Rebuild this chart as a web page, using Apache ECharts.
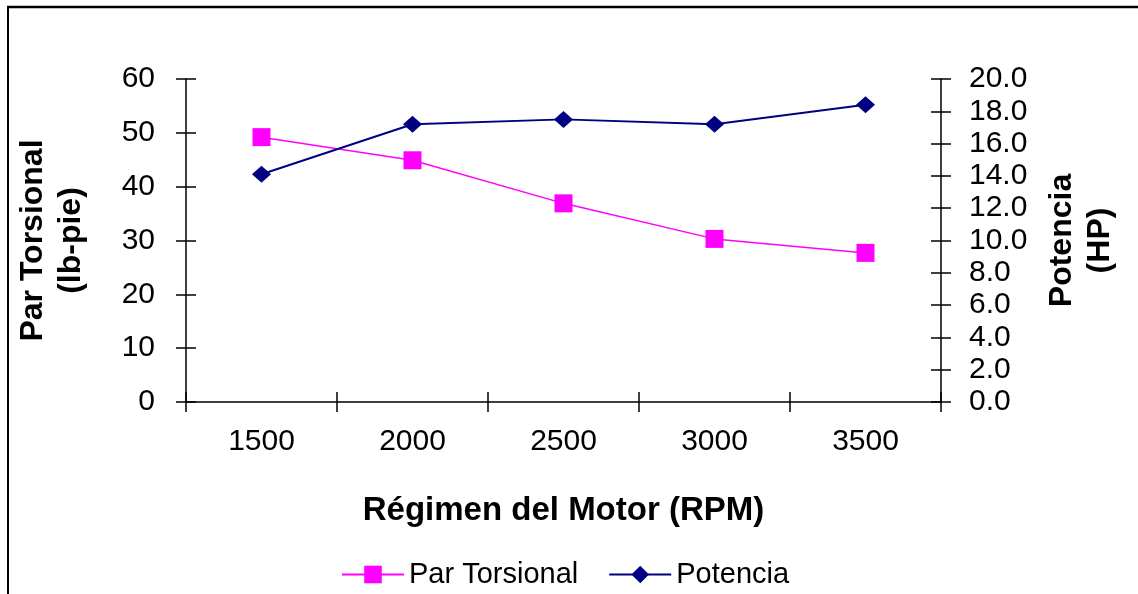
<!DOCTYPE html>
<html>
<head>
<meta charset="utf-8">
<script src="https://cdn.jsdelivr.net/npm/echarts@6/dist/echarts.min.js"></script>
<style>
  html, body { margin: 0; padding: 0; background: #fff; }
  #chart { width: 1138px; height: 594px; }
</style>
</head>
<body>
<div id="chart"></div>
<script>
// Engine speed (RPM) categories
const rpm = ['1500', '2000', '2500', '3000', '3500'];
// Torque in lb-ft
const parTorsional = [49.2, 44.9, 36.9, 30.3, 27.7];
// Power in HP
const potencia = [14.1, 17.2, 17.5, 17.2, 18.4];

const FONT = '"Liberation Sans", Arial, sans-serif';
const AXIS_COLOR = '#000';

const chart = echarts.init(document.getElementById('chart'), null, { renderer: 'canvas' });

// ticks cross the axis lines: outer half on the main axes, inner half on companion axes
const tickOut = { show: true, inside: false, length: 10, lineStyle: { color: AXIS_COLOR, width: 1.5 } };
const tickIn = { show: true, inside: true, length: 10, lineStyle: { color: AXIS_COLOR, width: 1.5 } };

chart.setOption({
  backgroundColor: '#fff',
  animation: false,
  grid: { left: 186, right: 197, top: 79, bottom: 192, containLabel: false },
  graphic: [
    { type: 'line', shape: { x1: 7, y1: 7, x2: 1138, y2: 7 }, style: { stroke: '#000', lineWidth: 2.5 } },
    { type: 'line', shape: { x1: 8, y1: 6, x2: 8, y2: 594 }, style: { stroke: '#000', lineWidth: 2 } }
  ],
  legend: {
    left: 336,
    top: 555,
    itemWidth: 62,
    itemHeight: 22,
    itemGap: 30,
    textStyle: { fontFamily: FONT, fontSize: 29, color: '#000' },
    data: ['Par Torsional', 'Potencia']
  },
  xAxis: [
    {
      type: 'category',
      data: rpm,
      boundaryGap: true,
      name: 'Régimen del Motor (RPM)',
      nameLocation: 'middle',
      nameGap: 92,
      nameTextStyle: { fontFamily: FONT, fontSize: 33, fontWeight: 'bold', color: '#000' },
      axisLine: { show: true, lineStyle: { color: AXIS_COLOR, width: 1.5 } },
      axisTick: tickOut,
      axisLabel: { margin: 25, fontFamily: FONT, fontSize: 30, color: '#000' },
      splitLine: { show: false }
    },
    {
      type: 'category',
      data: rpm,
      position: 'bottom',
      boundaryGap: true,
      axisLine: { show: false },
      axisTick: tickIn,
      axisLabel: { show: false },
      splitLine: { show: false }
    }
  ],
  yAxis: [
    {
      type: 'value',
      position: 'left',
      min: 0, max: 60, interval: 10,
      name: 'Par Torsional\n(lb-pie)',
      nameLocation: 'middle',
      nameRotate: 90,
      nameGap: 96,
      nameTextStyle: { fontFamily: FONT, fontSize: 32, fontWeight: 'bold', color: '#000', lineHeight: 38 },
      axisLine: { show: true, lineStyle: { color: AXIS_COLOR, width: 1.5 } },
      axisTick: tickOut,
      axisLabel: { margin: 31, fontFamily: FONT, fontSize: 30, color: '#000' },
      splitLine: { show: false }
    },
    {
      type: 'value',
      position: 'right',
      min: 0, max: 20, interval: 2,
      name: 'Potencia\n(HP)',
      nameLocation: 'middle',
      nameRotate: 90,
      nameGap: 102,
      nameTextStyle: { fontFamily: FONT, fontSize: 32, fontWeight: 'bold', color: '#000', lineHeight: 38 },
      axisLine: { show: true, lineStyle: { color: AXIS_COLOR, width: 1.5 } },
      axisTick: tickOut,
      axisLabel: { margin: 28, fontFamily: FONT, fontSize: 30, color: '#000', formatter: v => v.toFixed(1) },
      splitLine: { show: false }
    },
    {
      type: 'value',
      position: 'left',
      min: 0, max: 60, interval: 10,
      axisLine: { show: false },
      axisTick: tickIn,
      axisLabel: { show: false },
      splitLine: { show: false }
    },
    {
      type: 'value',
      position: 'right',
      min: 0, max: 20, interval: 2,
      axisLine: { show: false },
      axisTick: tickIn,
      axisLabel: { show: false },
      splitLine: { show: false }
    }
  ],
  series: [
    {
      name: 'Par Torsional',
      type: 'line',
      xAxisIndex: 0,
      yAxisIndex: 0,
      data: parTorsional,
      symbol: 'rect',
      symbolSize: 18,
      lineStyle: { color: '#FF00FF', width: 1.5 },
      itemStyle: { color: '#FF00FF' }
    },
    {
      name: 'Potencia',
      type: 'line',
      xAxisIndex: 0,
      yAxisIndex: 1,
      data: potencia,
      symbol: 'diamond',
      symbolSize: [19, 17],
      lineStyle: { color: '#000080', width: 2 },
      itemStyle: { color: '#000080' }
    }
  ]
});
</script>
</body>
</html>
